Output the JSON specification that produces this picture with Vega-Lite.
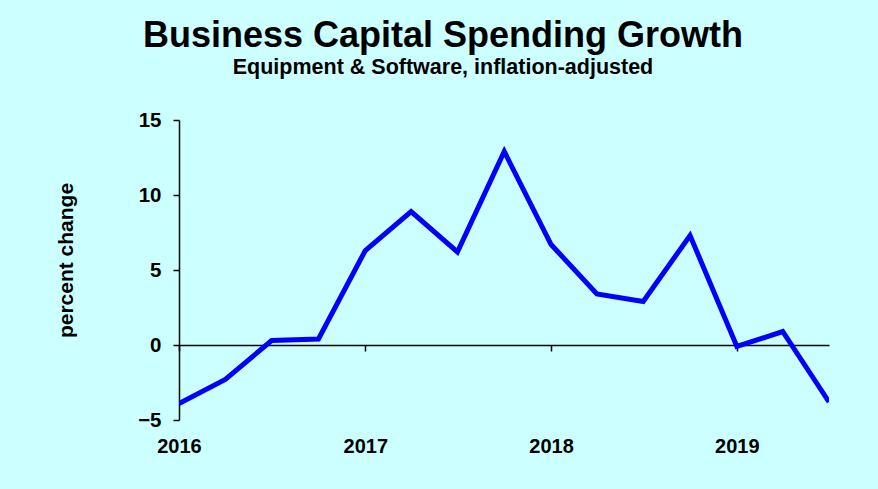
{
  "$schema": "https://vega.github.io/schema/vega-lite/v6.json",
  "width": 650,
  "height": 300,
  "autosize": "none",
  "padding": {"left": 179, "top": 120, "right": 49, "bottom": 69},
  "background": "#CCFFFF",
  "config": {
    "font": "Liberation Sans",
    "view": {"stroke": null},
    "axis": {"grid": false}
  },
  "title": {
    "text": "Business Capital Spending Growth",
    "subtitle": "Equipment & Software, inflation-adjusted",
    "anchor": "middle",
    "frame": "group",
    "dx": -61,
    "offset": 31,
    "fontSize": 36,
    "fontWeight": "bold",
    "color": "#000000",
    "subtitleFontSize": 21.5,
    "subtitleFontWeight": "bold",
    "subtitleColor": "#000000",
    "subtitlePadding": 2
  },
  "data": {
    "values": [
      {"date": "2016-01-01", "value": -3.9},
      {"date": "2016-04-01", "value": -2.3},
      {"date": "2016-07-01", "value": 0.3},
      {"date": "2016-10-01", "value": 0.4},
      {"date": "2017-01-01", "value": 6.3},
      {"date": "2017-04-01", "value": 8.9},
      {"date": "2017-07-01", "value": 6.2},
      {"date": "2017-10-01", "value": 12.9},
      {"date": "2018-01-01", "value": 6.7},
      {"date": "2018-04-01", "value": 3.4},
      {"date": "2018-07-01", "value": 2.9},
      {"date": "2018-10-01", "value": 7.3},
      {"date": "2019-01-01", "value": -0.1},
      {"date": "2019-04-01", "value": 0.9},
      {"date": "2019-07-01", "value": -3.8}
    ]
  },
  "mark": {"type": "line", "color": "#0000FF", "strokeWidth": 5, "clip": true, "strokeJoin": "miter"},
  "encoding": {
    "x": {
      "field": "date",
      "type": "temporal",
      "scale": {"type": "utc", "nice": false},
      "axis": {
        "title": null,
        "format": "%Y",
        "tickCount": {"interval": "year", "step": 1},
        "offset": -75,
        "domainColor": "#000000",
        "domainWidth": 1.5,
        "tickColor": "#000000",
        "tickWidth": 1.5,
        "tickSize": 6,
        "labelPadding": 85,
        "labelFontSize": 20,
        "labelFontWeight": "bold",
        "labelColor": "#000000",
        "labelFlush": false,
        "labelOverlap": false
      }
    },
    "y": {
      "field": "value",
      "type": "quantitative",
      "scale": {"domain": [-5, 15], "nice": false, "zero": false},
      "axis": {
        "values": [-5, 0, 5, 10, 15],
        "title": "percent change",
        "titleFontSize": 21,
        "titleFontWeight": "bold",
        "titleColor": "#000000",
        "titleX": -113,
        "titleY": 140,
        "titleAngle": -90,
        "titleAlign": "center",
        "titleBaseline": "middle",
        "domainColor": "#000000",
        "domainWidth": 1.5,
        "tickColor": "#000000",
        "tickWidth": 1.5,
        "tickSize": 6,
        "labelPadding": 12,
        "labelFontSize": 20.5,
        "labelFontWeight": "bold",
        "labelColor": "#000000"
      }
    }
  }
}
